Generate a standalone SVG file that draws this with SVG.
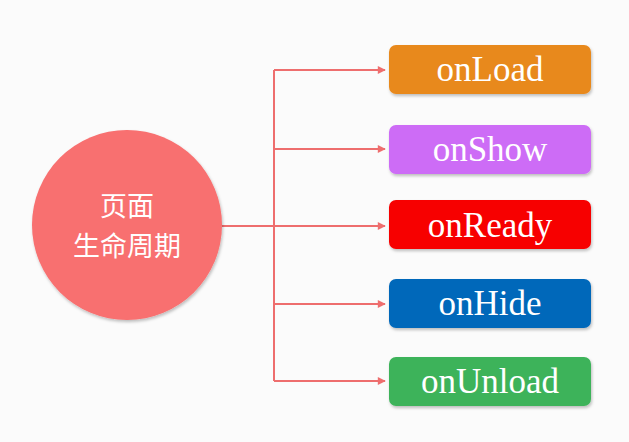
<svg xmlns="http://www.w3.org/2000/svg" width="629" height="442" viewBox="0 0 629 442">
<defs>
<style>
.box text{font-family:"Liberation Serif","Times New Roman",serif;font-size:35px;fill:#fff;text-anchor:middle}
.conn{stroke:#EE6E6E;stroke-width:2;fill:none}
.cn{font-family:"Noto Sans CJK SC","Noto Sans",sans-serif;font-size:27px;fill:#fff;text-anchor:middle}
</style>
<marker id="arr" viewBox="0 0 10 10" refX="9" refY="5" markerWidth="9" markerHeight="8" orient="auto" markerUnits="userSpaceOnUse">
<path d="M0,0 L10,5 L0,10 z" fill="#EE6E6E"/>
</marker>
<filter id="sh" x="-10%" y="-20%" width="120%" height="150%">
<feDropShadow dx="1" dy="2" stdDeviation="1.5" flood-color="#000" flood-opacity="0.25"/>
</filter>
</defs>
<rect width="629" height="442" fill="#FBFBFB"/>
<g id="connectors">
<path class="conn" d="M222,226 H274"/>
<path class="conn" d="M274,70 V381"/>
<path class="conn" d="M274,70 H385" marker-end="url(#arr)"/>
<path class="conn" d="M274,149 H385" marker-end="url(#arr)"/>
<path class="conn" d="M274,226 H385" marker-end="url(#arr)"/>
<path class="conn" d="M274,304 H385" marker-end="url(#arr)"/>
<path class="conn" d="M274,381 H385" marker-end="url(#arr)"/>
</g>
<g id="center">
<circle cx="127" cy="225" r="95" fill="#F86F6F" filter="url(#sh)"/>
<text class="cn" x="127" y="216">页面</text>
<text class="cn" x="127" y="256">生命周期</text>
</g>
<g id="onLoad" class="box">
<rect x="389" y="45" width="202" height="49" rx="7" fill="#E8891E" filter="url(#sh)"/>
<text x="490" y="81">onLoad</text>
</g>
<g id="onShow" class="box">
<rect x="389" y="125" width="202" height="49" rx="7" fill="#CD6CF6" filter="url(#sh)"/>
<text x="490" y="161">onShow</text>
</g>
<g id="onReady" class="box">
<rect x="389" y="200" width="202" height="49" rx="7" fill="#F70303" filter="url(#sh)"/>
<text x="490" y="237">onReady</text>
</g>
<g id="onHide" class="box">
<rect x="389" y="279" width="202" height="49" rx="7" fill="#0567BA" filter="url(#sh)"/>
<text x="490" y="315">onHide</text>
</g>
<g id="onUnload" class="box">
<rect x="389" y="357" width="202" height="49" rx="7" fill="#3DB35A" filter="url(#sh)"/>
<text x="490" y="393">onUnload</text>
</g>
</svg>
